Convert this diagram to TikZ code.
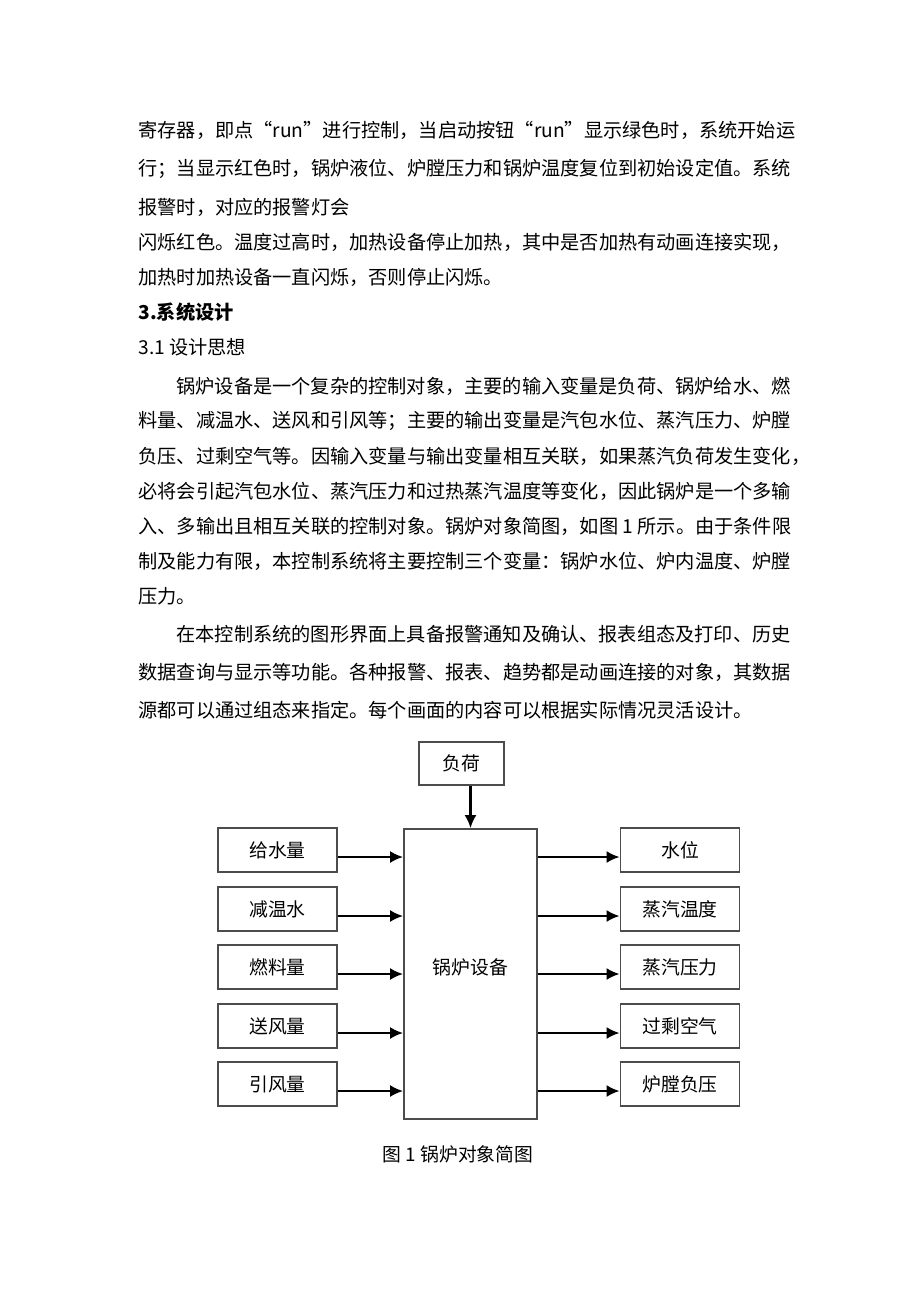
\documentclass[tikz,border=0pt]{standalone}
\usepackage{fontspec}
\setmainfont{Noto Sans CJK SC}
\usepackage{tikz}
\usetikzlibrary{arrows.meta}

\begin{document}
\begin{tikzpicture}[x=0.5pt,y=-0.5pt,
  txt/.style={anchor=west,inner sep=0pt,font=\fontsize{9.6}{12}\selectfont},
  box/.style={draw=black!70,line width=0.9pt,inner sep=0pt,minimum width=59.5pt,minimum height=22pt,font=\fontsize{9.4}{12}\selectfont},
  link/.style={-{Latex[length=6.5pt,width=6pt]},line width=1.1pt,draw=black}]
\useasboundingbox[fill=white] (0,0) rectangle (920,1302);
% text above the figure
\node[txt] (t1)at(138,130){寄存器，即点“run”进行控制，当启动按钮“run”显示绿色时，系统开始运};
\node[txt] (t2)at(138,169){行；当显示红色时，锅炉液位、炉膛压力和锅炉温度复位到初始设定值。系统};
\node[txt] (t3)at(138,207){报警时，对应的报警灯会};
\node[txt] (t4)at(138,242){闪烁红色。温度过高时，加热设备停止加热，其中是否加热有动画连接实现，};
\node[txt] (t5)at(138,277){加热时加热设备一直闪烁，否则停止闪烁。};
\node[txt,font=\fontsize{9.6}{12}\selectfont\bfseries] (h1)at(138,312){3.系统设计};
\node[txt] (h2)at(138,347){3.1 设计思想};
\node[txt] (p1)at(176,386){锅炉设备是一个复杂的控制对象，主要的输入变量是负荷、锅炉给水、燃};
\node[txt] (p2)at(138,421){料量、减温水、送风和引风等；主要的输出变量是汽包水位、蒸汽压力、炉膛};
\node[txt] (p3)at(138,456){负压、过剩空气等。因输入变量与输出变量相互关联，如果蒸汽负荷发生变化，};
\node[txt] (p4)at(138,491){必将会引起汽包水位、蒸汽压力和过热蒸汽温度等变化，因此锅炉是一个多输};
\node[txt] (p5)at(138,526){入、多输出且相互关联的控制对象。锅炉对象简图，如图 1 所示。由于条件限};
\node[txt] (p6)at(138,561){制及能力有限，本控制系统将主要控制三个变量：锅炉水位、炉内温度、炉膛};
\node[txt] (p7)at(138,596){压力。};
\node[txt] (q1)at(176,634){在本控制系统的图形界面上具备报警通知及确认、报表组态及打印、历史};
\node[txt] (q2)at(138,672){数据查询与显示等功能。各种报警、报表、趋势都是动画连接的对象，其数据};
\node[txt] (q3)at(138,710){源都可以通过组态来指定。每个画面的内容可以根据实际情况灵活设计。};
% figure 1
\node[box,minimum width=42.5pt,minimum height=21.5pt] (load)at(461.5,763.5){负荷};
\node[box,minimum width=66.5pt,minimum height=145pt,text depth=7pt] (boiler)at(470.5,974){锅炉设备};
\node[box] (in1)at(277.5,850){给水量};
\node[box] (in2)at(277.5,909){减温水};
\node[box] (in3)at(277.5,967){燃料量};
\node[box] (in4)at(277.5,1026){送风量};
\node[box] (in5)at(277.5,1084){引风量};
\node[box] (out1)at(680,850){水位};
\node[box] (out2)at(680,909){蒸汽温度};
\node[box] (out3)at(680,967){蒸汽压力};
\node[box] (out4)at(680,1026){过剩空气};
\node[box] (out5)at(680,1084){炉膛负压};
\draw[link] (load.south -| boiler.north) -- (boiler.north);
\draw[link] ([yshift=-3.5pt]in1.east) -- ([yshift=-3.5pt]in1.east -| boiler.west);
\draw[link] ([yshift=-3.5pt]in2.east) -- ([yshift=-3.5pt]in2.east -| boiler.west);
\draw[link] ([yshift=-3.5pt]in3.east) -- ([yshift=-3.5pt]in3.east -| boiler.west);
\draw[link] ([yshift=-3.5pt]in4.east) -- ([yshift=-3.5pt]in4.east -| boiler.west);
\draw[link] ([yshift=-3.5pt]in5.east) -- ([yshift=-3.5pt]in5.east -| boiler.west);
\draw[link] ([yshift=-3.5pt]out1.west -| boiler.east) -- ([yshift=-3.5pt]out1.west);
\draw[link] ([yshift=-3.5pt]out2.west -| boiler.east) -- ([yshift=-3.5pt]out2.west);
\draw[link] ([yshift=-3.5pt]out3.west -| boiler.east) -- ([yshift=-3.5pt]out3.west);
\draw[link] ([yshift=-3.5pt]out4.west -| boiler.east) -- ([yshift=-3.5pt]out4.west);
\draw[link] ([yshift=-3.5pt]out5.west -| boiler.east) -- ([yshift=-3.5pt]out5.west);
\node[inner sep=0pt,font=\fontsize{9.4}{12}\selectfont] (cap)at(458,1154){图 1 锅炉对象简图};
\end{tikzpicture}
\end{document}
